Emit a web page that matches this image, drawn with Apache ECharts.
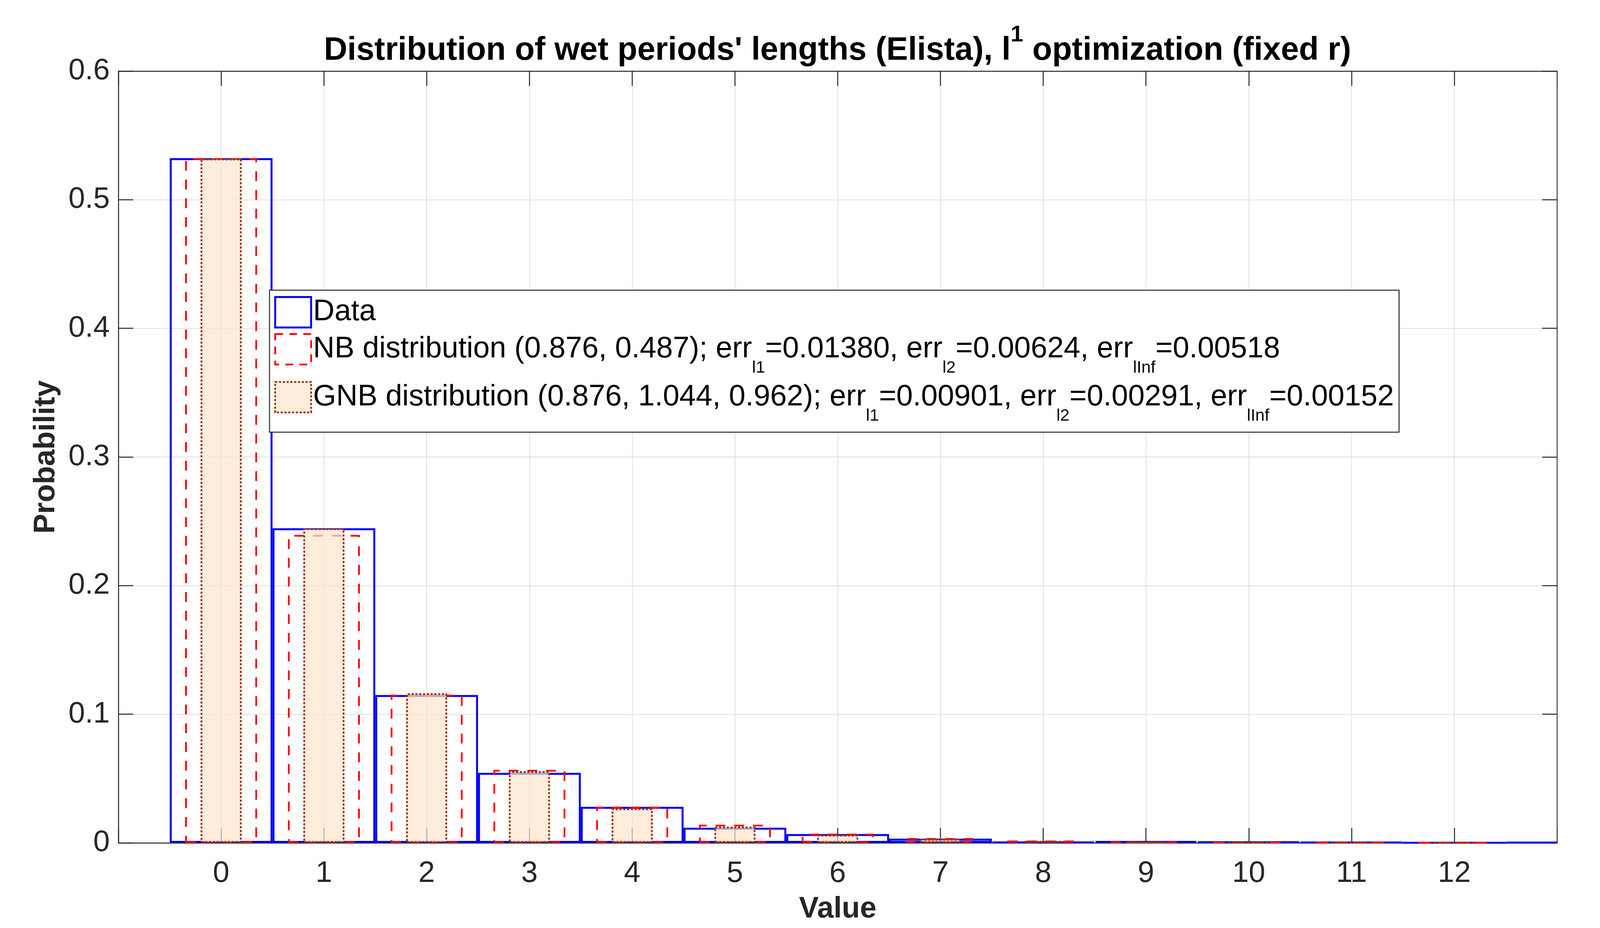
<!DOCTYPE html>
<html>
<head>
<meta charset="utf-8">
<title>Distribution of wet periods' lengths (Elista)</title>
<script src="https://cdn.jsdelivr.net/npm/echarts@6.0.0/dist/echarts.min.js"></script>
<style>
  html, body { margin: 0; padding: 0; background: #fff; }
  #main { width: 4116px; height: 2376px; }
</style>
</head>
<body>
<div id="main"></div>
<script>
// lengths (x values)
var lengths = [0, 1, 2, 3, 4, 5, 6, 7, 8, 9, 10, 11, 12, 13];
// empirical probabilities
var dataProb = [0.5323, 0.2446, 0.1149, 0.0544, 0.0280, 0.0118, 0.0068, 0.0033, 0.0008, 0.0015, 0.0011, 0.0006, 0.0002, 0.0004];
// fitted NB distribution
var nbProb = [0.5322, 0.2394, 0.1152, 0.0568, 0.0282, 0.0141, 0.0071, 0.0037, 0.0018, 0.0009, 0.0005, 0.0002, 0.0001];
// fitted GNB distribution
var gnbProb = [0.5320, 0.2446, 0.1163, 0.0557, 0.0268, 0.0126, 0.0063, 0.0032, 0.0016, 0.0008, 0.0004, 0.0002, 0.0001];

var seriesNames = ['Data', 'NB distribution', 'GNB distribution'];
// legend texts, {s|..} = subscript
var legendTexts = {
  'Data': '{d|Data}',
  'NB distribution': '{n|NB distribution (0.876, 0.487); err}{s|l1}{n|=0.01380, err}{s|l2}{n|=0.00624, err}{s|lInf}{n|=0.00518}',
  'GNB distribution': '{n|GNB distribution (0.876, 1.044, 0.962); err}{s|l1}{n|=0.00901, err}{s|l2}{n|=0.00291, err}{s|lInf}{n|=0.00152}'
};

var FONT = 'Liberation Sans';
var AXIS_COLOR = '#262626';
var BLUE = '#0000ff', RED = '#ff0000', BROWN = '#993300';
var GNB_FILL = 'rgba(255,230,204,0.7)';
var NB_DASH = [25, 23], GNB_DOT = [5.5, 4.2];

function pairs(xs, ys) {
  var out = [];
  for (var i = 0; i < ys.length; i++) out.push([xs[i], ys[i]]);
  return out;
}

var chart = echarts.init(document.getElementById('main'));

var xBase = { type: 'value', min: -1, max: 13, interval: 1 };

var option = {
  animation: false,
  backgroundColor: '#fff',
  textStyle: { fontFamily: FONT },
  title: {
    text: "Distribution of wet periods' lengths (Elista), l{sup|1} optimization (fixed r)",
    left: 2144,
    top: 61,
    padding: 0,
    textAlign: 'center',
    textStyle: {
      fontFamily: FONT, fontSize: 83, fontWeight: 'bold', color: '#000', lineHeight: 139,
      rich: {
        sup: { fontFamily: FONT, fontSize: 58, fontWeight: 'bold', color: '#000', verticalAlign: 'top' }
      }
    }
  },
  grid: { left: 303, right: 130, top: 182, bottom: 218, containLabel: false, outerBoundsMode: 'none' },
  legend: {
    data: [
      { name: 'Data', itemStyle: { borderWidth: 5, borderColor: BLUE, color: 'rgba(0,0,0,0)' } },
      { name: 'NB distribution', itemStyle: { borderWidth: 4.5, borderColor: RED, color: 'rgba(0,0,0,0)', borderType: [20, 16] } },
      { name: 'GNB distribution', itemStyle: { borderWidth: 4.5, borderColor: BROWN, color: GNB_FILL, borderType: GNB_DOT } }
    ],
    orient: 'vertical',
    left: 690,
    top: 743,
    padding: [15, 13, 20, 12],
    itemGap: 12,
    itemWidth: 92,
    itemHeight: 78,
    icon: 'rect',
    backgroundColor: '#fff',
    borderColor: AXIS_COLOR,
    borderWidth: 2.5,
    borderRadius: 0,
    formatter: function (name) { return legendTexts[name]; },
    textStyle: {
      fontFamily: FONT, fontSize: 76, color: '#000',
      rich: {
        d: { fontFamily: FONT, fontSize: 76, color: '#000', lineHeight: 73 },
        n: { fontFamily: FONT, fontSize: 76, color: '#000', lineHeight: 139 },
        s: { fontFamily: FONT, fontSize: 43, color: '#000', verticalAlign: 'bottom' }
      }
    }
  },
  xAxis: [
    Object.assign({}, xBase, {
      position: 'bottom',
      name: 'Value',
      nameLocation: 'middle',
      nameGap: 132,
      nameTextStyle: { fontFamily: FONT, fontSize: 76, fontWeight: 'bold', color: AXIS_COLOR },
      axisLine: { show: true, onZero: false, lineStyle: { color: AXIS_COLOR, width: 2.5 } },
      axisTick: { show: true, inside: true, length: 38, lineStyle: { color: AXIS_COLOR, width: 2.5 } },
      axisLabel: {
        margin: 41, fontSize: 76, color: AXIS_COLOR, fontFamily: FONT,
        formatter: function (v) { return (v < 0 || v > 12) ? '' : String(v); }
      },
      splitLine: { show: true, lineStyle: { color: '#dfdfdf', width: 2 } }
    }),
    Object.assign({}, xBase, { position: 'bottom', show: false }),
    Object.assign({}, xBase, { position: 'bottom', show: false }),
    Object.assign({}, xBase, {
      position: 'top',
      axisLine: { show: true, onZero: false, lineStyle: { color: AXIS_COLOR, width: 2.5 } },
      axisTick: { show: true, inside: true, length: 38, lineStyle: { color: AXIS_COLOR, width: 2.5 } },
      axisLabel: { show: false },
      splitLine: { show: false }
    })
  ],
  yAxis: [
    {
      type: 'value', min: 0, max: 0.6, interval: 0.1,
      position: 'left',
      name: 'Probability',
      nameLocation: 'middle',
      nameGap: 147,
      nameTextStyle: { fontFamily: FONT, fontSize: 76, fontWeight: 'bold', color: AXIS_COLOR },
      axisLine: { show: true, onZero: false, lineStyle: { color: AXIS_COLOR, width: 2.5 } },
      axisTick: { show: true, inside: true, length: 38, lineStyle: { color: AXIS_COLOR, width: 2.5 } },
      axisLabel: { margin: 22, fontSize: 76, color: AXIS_COLOR, fontFamily: FONT },
      splitLine: { show: true, lineStyle: { color: '#dfdfdf', width: 2 } }
    },
    {
      type: 'value', min: 0, max: 0.6, interval: 0.1,
      position: 'right',
      axisLine: { show: true, onZero: false, lineStyle: { color: AXIS_COLOR, width: 2.5 } },
      axisTick: { show: true, inside: true, length: 38, lineStyle: { color: AXIS_COLOR, width: 2.5 } },
      axisLabel: { show: false },
      splitLine: { show: false }
    }
  ],
  series: [
    {
      name: 'Data', type: 'bar', xAxisIndex: 0, yAxisIndex: 0,
      barWidth: '100%', clip: true,
      data: pairs(lengths, dataProb),
      itemStyle: { color: 'rgba(0,0,0,0)', borderColor: BLUE, borderWidth: 5 },
      z: 2
    },
    {
      name: 'NB distribution', type: 'bar', xAxisIndex: 1, yAxisIndex: 0,
      barWidth: '70%', clip: true,
      data: pairs(lengths, nbProb),
      itemStyle: { color: 'rgba(0,0,0,0)', borderColor: RED, borderWidth: 4.5, borderType: NB_DASH },
      z: 3
    },
    {
      name: 'GNB distribution', type: 'bar', xAxisIndex: 2, yAxisIndex: 0,
      barWidth: '40%', clip: true,
      data: pairs(lengths, gnbProb),
      itemStyle: { color: GNB_FILL, borderColor: BROWN, borderWidth: 4.5, borderType: GNB_DOT },
      z: 4
    }
  ]
};

chart.setOption(option);

// value-axis bars are not clipped at the grid edge, so the last bar's overflow
// past x = 13 is covered with a white strip, as the axes box cuts it in the original
var edge = chart.convertToPixel({ xAxisIndex: 0, yAxisIndex: 0 }, [13, 0]);
chart.setOption({
  graphic: [{
    type: 'rect', z: 100, silent: true,
    shape: { x: edge[0] + 1.5, y: 0, width: chart.getWidth() - edge[0], height: chart.getHeight() },
    style: { fill: '#fff' }
  }]
});
</script>
</body>
</html>
